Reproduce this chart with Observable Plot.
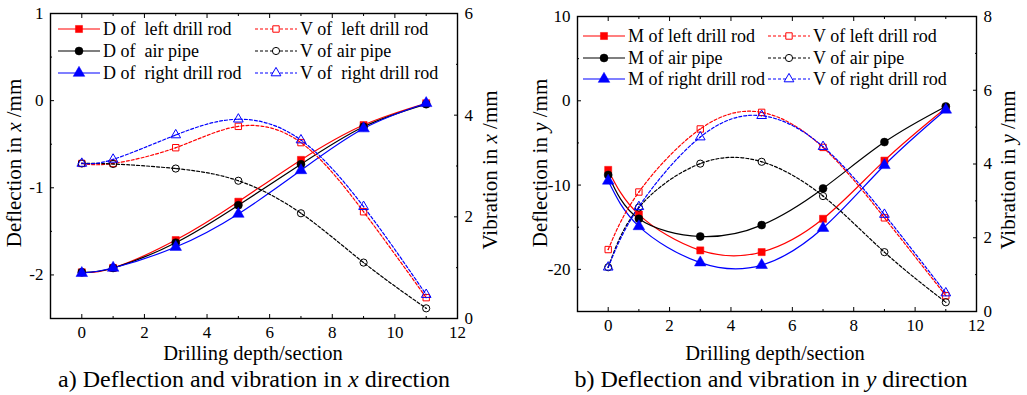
<!DOCTYPE html>
<html><head><meta charset="utf-8">
<script src="https://cdn.jsdelivr.net/npm/d3@7"></script>
<script src="https://cdn.jsdelivr.net/npm/@observablehq/plot@0.6"></script>
<style>
body{margin:0;background:#fff;font-family:"Liberation Serif",serif;}
#wrap{position:relative;width:1027px;height:395px;display:flex;overflow:hidden;}
.t{white-space:pre;}
</style></head><body><div id="wrap"></div>
<script>
// ---------- data ----------
const depth = [0, 1, 3, 5, 7, 9, 11];
const xTicks = [0, 2, 4, 6, 8, 10, 12];

// panel a (x direction)
const xDefLeftRod  = [-1.97, -1.92, -1.60, -1.16, -0.68, -0.28, -0.03];
const xDefAirPipe  = [-1.97, -1.92, -1.63, -1.20, -0.73, -0.30, -0.04];
const xDefRightRod = [-1.98, -1.92, -1.68, -1.30, -0.80, -0.32, -0.03];
const xVibLeftRod  = [3.05, 3.05, 3.36, 3.78, 3.46, 2.10, 0.41];
const xVibAirPipe  = [3.05, 3.04, 2.95, 2.71, 2.07, 1.10, 0.20];
const xVibRightRod = [3.05, 3.13, 3.61, 3.92, 3.51, 2.20, 0.47];
const aLeftTicks = [-2, -1, 0, 1];
const aLeftMinor = [-2.5, -1.5, -0.5, 0.5];
const aRightTicks = [0, 2, 4, 6];
const aRightMinor = [1, 3, 5];

// panel b (y direction)
const yDefLeftRod  = [-8.2, -13.5, -17.75, -17.95, -14.0, -7.1, -0.86];
const yDefAirPipe  = [-8.8, -14.0, -16.1, -14.75, -10.4, -4.9, -0.67];
const yDefRightRod = [-9.5, -14.9, -19.2, -19.5, -15.1, -7.65, -1.07];
const yVibLeftRod  = [1.68, 3.24, 4.95, 5.40, 4.45, 2.54, 0.43];
const yVibAirPipe  = [1.20, 2.82, 4.01, 4.06, 3.13, 1.61, 0.25];
const yVibRightRod = [1.20, 2.84, 4.73, 5.31, 4.47, 2.63, 0.50];
const bLeftTicks = [-20, -10, 0, 10];
const bLeftMinor = [-25, -15, -5, 5];
const bRightTicks = [0, 2, 4, 6, 8];
const bRightMinor = [1, 3, 5, 7];

const colors = {left: "#ff0000", air: "#000000", right: "#0000ff"};
const symbols = {left: "square", air: "circle", right: "triangle"};
const FONT = '"Liberation Serif", "Tinos", "Times New Roman", "DejaVu Serif", serif';

function buildPanel(cfg) {
  const v2y = d3.scaleLinear(cfg.vDomain, cfg.yDomain);
  const rows = [];
  cfg.series.forEach(s => {
    s.values.forEach((v, i) => rows.push({
      name: s.name, key: s.key, kind: s.kind, x: depth[i],
      y: s.kind === "D" ? v : v2y(v)
    }));
  });
  const marks = [];
  cfg.series.forEach(s => {
    const d = rows.filter(r => r.name === s.name);
    marks.push(Plot.line(d, {x: "x", y: "y", curve: "natural", stroke: colors[s.key],
      strokeWidth: 1.2, strokeDasharray: s.kind === "D" ? null : "3,2"}));
  });
  cfg.series.forEach(s => {
    const d = rows.filter(r => r.name === s.name);
    if (s.kind === "D") {
      marks.push(Plot.dot(d, {x: "x", y: "y", symbol: symbols[s.key], r: s.key === "right" ? 4.3 : 4,
        fill: colors[s.key], stroke: colors[s.key], strokeWidth: 0.5}));
    } else {
      marks.push(Plot.dot(d, {x: "x", y: "y", symbol: symbols[s.key], r: 3.6,
        fill: "none", stroke: colors[s.key], strokeWidth: 1}));
      marks.push(Plot.dot(d, {x: "x", y: "y", r: 0.7, fill: colors[s.key], stroke: null}));
    }
  });
  const tk = {tickSize: -4, fontSize: 17, label: null};
  marks.push(
    Plot.axisX({...tk, anchor: "bottom", ticks: xTicks, tickPadding: 11, tickFormat: d => String(d)}),
    Plot.axisX({anchor: "bottom", ticks: d3.range(-1, 13, 2), tickSize: -2, tickFormat: () => "", label: null}),
    Plot.axisX({anchor: "top", ticks: xTicks, tickSize: -4, tickFormat: () => "", label: null}),
    Plot.axisX({anchor: "top", ticks: d3.range(-1, 13, 2), tickSize: -2, tickFormat: () => "", label: null}),
    Plot.axisY({...tk, anchor: "left", ticks: cfg.leftTicks, tickPadding: 11, tickFormat: d => String(d)}),
    Plot.axisY({anchor: "left", ticks: cfg.leftMinor, tickSize: -2, tickFormat: () => "", label: null}),
    Plot.axisY({...tk, anchor: "right", ticks: cfg.rightTicks.map(v2y), tickPadding: 11,
      tickFormat: d => String(Math.round(v2y.invert(d)))}),
    Plot.axisY({anchor: "right", ticks: cfg.rightMinor.map(v2y), tickSize: -2, tickFormat: () => "", label: null}),
    Plot.frame({stroke: "black", strokeWidth: 1.4})
  );
  const svg = Plot.plot({
    width: cfg.width, height: 395,
    marginLeft: cfg.ml, marginRight: cfg.mr, marginTop: cfg.mt, marginBottom: cfg.mb,
    x: {domain: [-1, 12]},
    y: {domain: cfg.yDomain},
    style: {fontFamily: FONT, fontSize: "17px", color: "black", background: "white", overflow: "visible"},
    marks
  });
  const g = d3.select(svg);
  const addText = (x, y, parts, size, rotate, anchor = "middle") => {
    const t = g.append("text").attr("class", "t").attr("font-size", size).attr("text-anchor", anchor)
      .attr("fill", "black");
    if (rotate) t.attr("transform", `translate(${x},${y}) rotate(-90)`);
    else t.attr("x", x).attr("y", y);
    parts.forEach(p => t.append("tspan").attr("font-style", p.i ? "italic" : null).text(p.s));
  };
  addText(cfg.yl[0], cfg.yl[1], cfg.yLeftTitle, 21, true);
  addText(cfg.yr[0], cfg.yr[1], cfg.yRightTitle, 21, true);
  addText(cfg.xt[0], cfg.xt[1], [{s: "Drilling depth/section"}], 20.5, false);
  addText(cfg.cap[0], cfg.cap[1], cfg.caption, 24, false);
  // legend
  cfg.series.forEach(s => {
    const col = s.kind === "D" ? 0 : 1;
    const row = ["left", "air", "right"].indexOf(s.key);
    const lx = cfg.legX[col], ly = cfg.legY[row];
    g.append("line").attr("x1", lx).attr("x2", lx + 42).attr("y1", ly).attr("y2", ly)
      .attr("stroke", colors[s.key]).attr("stroke-width", 1.2)
      .attr("stroke-dasharray", s.kind === "D" ? null : "3,2");
    const sym = {square: d3.symbolSquare, circle: d3.symbolCircle, triangle: d3.symbolTriangle}[symbols[s.key]];
    const r = s.kind === "D" ? (s.key === "right" ? 4.3 : 4) : 3.6;
    g.append("path").attr("d", d3.symbol(sym, r * r * Math.PI)())
      .attr("transform", `translate(${lx + 21},${ly})`)
      .attr("fill", s.kind === "D" ? colors[s.key] : "white").attr("stroke", colors[s.key])
      .attr("stroke-width", s.kind === "D" ? 0.5 : 1);
    addText(lx + 45, ly + 6, [{s: s.label}], 18, false, "start");
  });
  g.selectAll("text").style("font-family", FONT);
  return svg;
}

const wrap = document.getElementById("wrap");
wrap.appendChild(buildPanel({
  width: 513, ml: 50, mr: 56, mt: 13, mb: 77,
  yDomain: [-2.5, 1], vDomain: [0, 6],
  leftTicks: aLeftTicks, leftMinor: aLeftMinor, rightTicks: aRightTicks, rightMinor: aRightMinor,
  series: [
    {name: "Dl", key: "left", kind: "D", values: xDefLeftRod, label: "D of  left drill rod"},
    {name: "Da", key: "air", kind: "D", values: xDefAirPipe, label: "D of  air pipe"},
    {name: "Dr", key: "right", kind: "D", values: xDefRightRod, label: "D of  right drill rod"},
    {name: "Vl", key: "left", kind: "V", values: xVibLeftRod, label: "V of  left drill rod"},
    {name: "Va", key: "air", kind: "V", values: xVibAirPipe, label: "V of air pipe"},
    {name: "Vr", key: "right", kind: "V", values: xVibRightRod, label: "V of  right drill rod"}
  ],
  yLeftTitle: [{s: "Deflection in "}, {s: "x", i: true}, {s: " /mm"}],
  yRightTitle: [{s: "Vibration in "}, {s: "x", i: true}, {s: " /mm"}],
  caption: [{s: "a) Deflection and vibration in "}, {s: "x", i: true}, {s: " direction"}],
  yl: [21, 163], yr: [497, 170], xt: [253, 360], cap: [254, 387],
  legX: [58, 255], legY: [29, 51, 73]
}));
wrap.appendChild(buildPanel({
  width: 514, ml: 64, mr: 51, mt: 16, mb: 84,
  yDomain: [-25, 10], vDomain: [0, 8],
  leftTicks: bLeftTicks, leftMinor: bLeftMinor, rightTicks: bRightTicks, rightMinor: bRightMinor,
  series: [
    {name: "Ml", key: "left", kind: "D", values: yDefLeftRod, label: "M of left drill rod"},
    {name: "Ma", key: "air", kind: "D", values: yDefAirPipe, label: "M of air pipe"},
    {name: "Mr", key: "right", kind: "D", values: yDefRightRod, label: "M of right drill rod"},
    {name: "Vl", key: "left", kind: "V", values: yVibLeftRod, label: "V of left drill rod"},
    {name: "Va", key: "air", kind: "V", values: yVibAirPipe, label: "V of air pipe"},
    {name: "Vr", key: "right", kind: "V", values: yVibRightRod, label: "V of right drill rod"}
  ],
  yLeftTitle: [{s: "Deflection in "}, {s: "y", i: true}, {s: " /mm"}],
  yRightTitle: [{s: "Vibration in "}, {s: "y", i: true}, {s: " /mm"}],
  caption: [{s: "b) Deflection and vibration in "}, {s: "y", i: true}, {s: " direction"}],
  yl: [34, 163], yr: [502, 170], xt: [262, 360], cap: [258, 387],
  legX: [70, 255], legY: [36, 58, 79]
}));
</script></body></html>
